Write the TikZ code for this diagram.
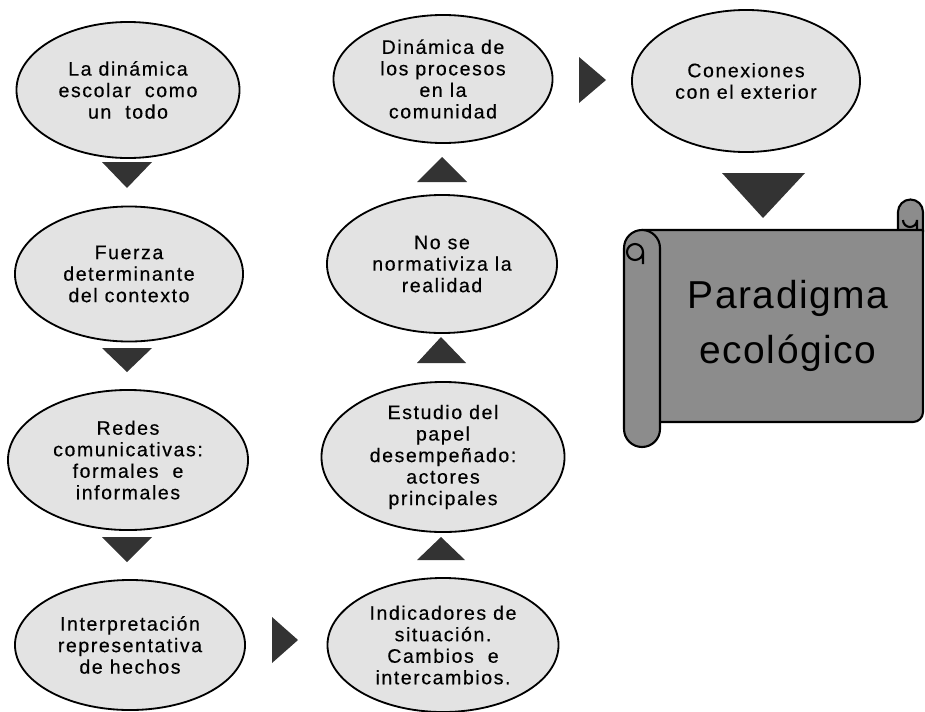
\documentclass[tikz,border=0pt]{standalone}
\usepackage{fontspec}
\setmainfont{Liberation Sans}
\newfontfamily\bubblefont{Liberation Sans}[LetterSpace=8, FakeBold=0.4]
\newfontfamily\scrollfont{Liberation Sans}[LetterSpace=4]
\usepackage{xcolor}
\usepackage{tikz}
\usetikzlibrary{shapes}
\definecolor{bubblegray}{HTML}{E3E3E3}
\definecolor{scrollgray}{HTML}{8C8C8C}
\definecolor{headgray}{HTML}{333333}
\tikzset{
  font={\bubblefont\fontsize{13.9pt}{15.3pt}\selectfont}}

\begin{document}
\begin{tikzpicture}[x=0.025cm, y=-0.025cm]

        \tikzset{bubble/.style = {ellipse, draw=black, line width=1.3pt, fill=bubblegray, inner sep=0pt, align=center},
                 head/.style = {fill=headgray},
                 roll/.style = {draw=black, line width=1.5pt, fill=scrollgray, line join=round},
                 curl/.style = {draw=black, line width=1.5pt}}

        \useasboundingbox (0,0) rectangle (925,711);

        % vertices
        \node[bubble, minimum width=5.575cm, minimum height=3.4cm] (a)
            at (128,90) {La dinámica\\escolar\ \ como\\un\ \ todo};
        \node[bubble, minimum width=5.7cm, minimum height=3.375cm] (b)
            at (129,274) {Fuerza\\determinante\\del contexto};
        \node[bubble, minimum width=6cm, minimum height=3.5cm] (c)
            at (128,460) {Redes\\comunicativas:\\formales\ \ e\\informales};
        \node[bubble, minimum width=5.75cm, minimum height=3.25cm] (d)
            at (130,645) {Interpretación\\representativa\\de hechos};
        \node[bubble, minimum width=5.775cm, minimum height=3.35cm] (e)
            at (443,645) {Indicadores de\\situación.\\Cambios\ \ e\\intercambios.};
        \node[bubble, minimum width=6.075cm, minimum height=3.75cm] (f)
            at (443,457) {Estudio del\\papel\\desempeñado:\\actores\\principales};
        \node[bubble, minimum width=5.75cm, minimum height=3.45cm] (g)
            at (442,264) {No se\\normativiza la\\realidad};
        \node[bubble, minimum width=5.475cm, minimum height=3.2cm] (h)
            at (443,79) {Dinámica de\\los procesos\\en la\\comunidad};
        \node[bubble, minimum width=5.7cm, minimum height=3.55cm] (i)
            at (746,81) {Conexiones\\con el exterior};

        % scroll
        \draw[roll] (898,232) -- (898,212) arc (180:360:12.5) -- (923,232);
        \draw[curl] (917,232) -- (917,220) arc (0:180:7);
        \draw[roll] (642,230) -- (923,230) [rounded corners=2.5mm] -- (923,422) [sharp corners] -- (642,422) -- cycle;
        \draw[roll] (660,248) -- (660,429) arc (0:180:18) -- (624,248) arc (180:360:18) -- cycle;
        \draw[curl] (643,264) -- (643,252) arc (0:360:8);
        \node[font={\scrollfont\fontsize{27.7pt}{39pt}\selectfont}, align=center] (p)
            at (788,326) {Paradigma\\ecológico};

        % arrows
        \fill[head] (102,162) -- (152,162) -- (127,188) -- cycle;
        \fill[head] (102,348) -- (152,348) -- (127,372) -- cycle;
        \fill[head] (102,537) -- (152,537) -- (127,562) -- cycle;
        \fill[head] (272,617) -- (298,640) -- (272,663) -- cycle;
        \fill[head] (417,560) -- (465,560) -- (441,537) -- cycle;
        \fill[head] (417,363) -- (466,363) -- (441,337) -- cycle;
        \fill[head] (417,182) -- (467,182) -- (442,157) -- cycle;
        \fill[head] (579,57) -- (606,80) -- (579,103) -- cycle;
        \fill[head] (722,173) -- (805,173) -- (763,218) -- cycle;

\end{tikzpicture}
\end{document}
